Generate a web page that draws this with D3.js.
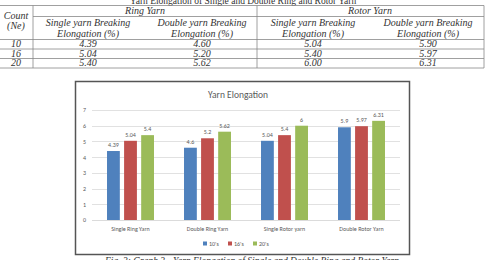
<!DOCTYPE html>
<html><head><meta charset="utf-8">
<script src="https://cdn.jsdelivr.net/npm/d3@7"></script>
<style>html,body{margin:0;padding:0;background:#fff;overflow:hidden}svg{display:block}</style>
</head><body>
<script>
const categories = ["Single Ring Yarn", "Double Ring Yarn", "Single Rotor yarn", "Double Rotor Yarn"];
const seriesNames = ["10's", "16's", "20's"];
const counts = [10, 16, 20];
const values10 = [4.39, 4.60, 5.04, 5.90];
const values16 = [5.04, 5.20, 5.40, 5.97];
const values20 = [5.40, 5.62, 6.00, 6.31];
const yTicks = [0, 1, 2, 3, 4, 5, 6, 7];
const colors = ["#4f81bd", "#c0504d", "#9bbb59"];
const series = [values10, values16, values20];

const W = 487, H = 260;
const svg = d3.select("body").append("svg").attr("width", W).attr("height", H);
svg.append("rect").attr("width", W).attr("height", H).attr("fill", "#fff");

// ---------- Table ----------
const serif = "'Liberation Serif','Times New Roman',serif";
const tcol = "#333";
const lcol = "#888";
const t = svg.append("g");
t.append("text").attr("x", 243).attr("y", 4).attr("text-anchor", "middle")
  .attr("font-family", serif).attr("font-size", 9.5).attr("fill", tcol)
  .text("Yarn Elongation of Single and Double Ring and Rotor Yarn");
const hl = (x1, x2, y) => t.append("line").attr("x1", x1).attr("x2", x2).attr("y1", y).attr("y2", y).attr("stroke", lcol).attr("stroke-width", 0.8);
const vl = (x, y1, y2) => t.append("line").attr("x1", x).attr("x2", x).attr("y1", y1).attr("y2", y2).attr("stroke", lcol).attr("stroke-width", 0.8);
hl(0, 484, 5.5); hl(33, 484, 16.5); hl(0, 484, 39.5); hl(0, 484, 49); hl(0, 484, 58.5); hl(0, 484, 68);
vl(33, 5.5, 68); vl(257, 5.5, 68); vl(484, 5.5, 68);
const tt = (x, y, s) => t.append("text").attr("x", x).attr("y", y).attr("text-anchor", "middle")
  .attr("font-family", serif).attr("font-style", "italic").attr("font-size", 10).attr("fill", tcol).text(s);
tt(16, 19, "Count"); tt(16, 28.5, "(Ne)");
tt(145, 14, "Ring Yarn"); tt(370, 14, "Rotor Yarn");
const colX = [88, 202, 313, 428];
const colHead = ["Single", "Double", "Single", "Double"];
colX.forEach((x, i) => { tt(x, 26, colHead[i] + " yarn Breaking"); tt(x, 36.5, "Elongation (%)"); });
const rowY = [47, 56.5, 66];
counts.forEach((c, r) => {
  tt(16, rowY[r], String(c));
  colX.forEach((x, i) => tt(x, rowY[r], series[r][i].toFixed(2)));
});

// ---------- Chart ----------
const sans = "Calibri,Carlito,'Open Sans','DejaVu Sans',sans-serif";
const g = svg.append("g");
g.append("rect").attr("x", 75.5).attr("y", 81.5).attr("width", 334).attr("height", 173)
  .attr("fill", "#fff").attr("stroke", "#555").attr("stroke-width", 1.5);

const y = d3.scaleLinear().domain([0, 7]).range([220, 110]);
const x0 = d3.scaleBand().domain(categories).range([92, 400]).paddingInner(0.39).paddingOuter(0.195);
const x1 = d3.scaleBand().domain(d3.range(3)).range([0, x0.bandwidth()]).paddingInner(0.25);

// gridlines
g.append("g").selectAll("line").data(yTicks).join("line")
  .attr("x1", 92).attr("x2", 400).attr("y1", d => Math.round(y(d)) + 0.5).attr("y2", d => Math.round(y(d)) + 0.5)
  .attr("stroke", "#d9d9d9").attr("stroke-width", 0.8);
// y axis labels
const yAxis = d3.axisLeft(y).tickValues(yTicks).tickFormat(d3.format("d")).tickSize(0).tickPadding(0);
const ya = g.append("g").attr("transform", "translate(86,0)").call(yAxis);
ya.select(".domain").remove();
ya.selectAll("text").attr("font-family", sans).attr("font-size", 6).attr("fill", "#595959");

// bars
categories.forEach((c, ci) => {
  series.forEach((vals, si) => {
    const bx = x0(c) + x1(si);
    g.append("rect").attr("x", bx).attr("y", y(vals[ci])).attr("width", x1.bandwidth())
      .attr("height", y(0) - y(vals[ci])).attr("fill", colors[si]);
    g.append("text").attr("x", bx + x1.bandwidth() / 2).attr("y", y(vals[ci]) - 4)
      .attr("text-anchor", "middle").attr("font-family", sans).attr("font-size", 6).attr("fill", "#595959")
      .text(String(vals[ci]));
  });
});

// x axis
const xAxis = d3.axisBottom(x0).tickSize(0).tickPadding(0);
const xa = g.append("g").attr("transform", "translate(0,227)").call(xAxis);
xa.select(".domain").remove();
xa.selectAll("text").attr("font-family", sans).attr("font-size", 6).attr("fill", "#595959").attr("dy", "0.35em").attr("y", 2);
g.append("line").attr("x1", 92).attr("x2", 400).attr("y1", 220.5).attr("y2", 220.5).attr("stroke", "#d9d9d9").attr("stroke-width", 0.8);

// title
g.append("text").attr("x", 238).attr("y", 98).attr("text-anchor", "middle")
  .attr("font-family", sans).attr("font-size", 9.5).attr("fill", "#595959").text("Yarn Elongation");

// legend
const legX = [203, 228, 253];
seriesNames.forEach((n, i) => {
  g.append("rect").attr("x", legX[i]).attr("y", 241.5).attr("width", 4).attr("height", 4).attr("fill", colors[i]);
  g.append("text").attr("x", legX[i] + 6).attr("y", 245.5).attr("font-family", sans).attr("font-size", 6)
    .attr("fill", "#595959").text(n);
});

// caption
svg.append("text").attr("x", 252).attr("y", 264).attr("text-anchor", "middle")
  .attr("font-family", serif).attr("font-style", "italic").attr("font-size", 9.5).attr("fill", "#333")
  .text("Fig. 3: Graph 3 - Yarn Elongation of Single and Double Ring and Rotor Yarn");
</script>
</body></html>
